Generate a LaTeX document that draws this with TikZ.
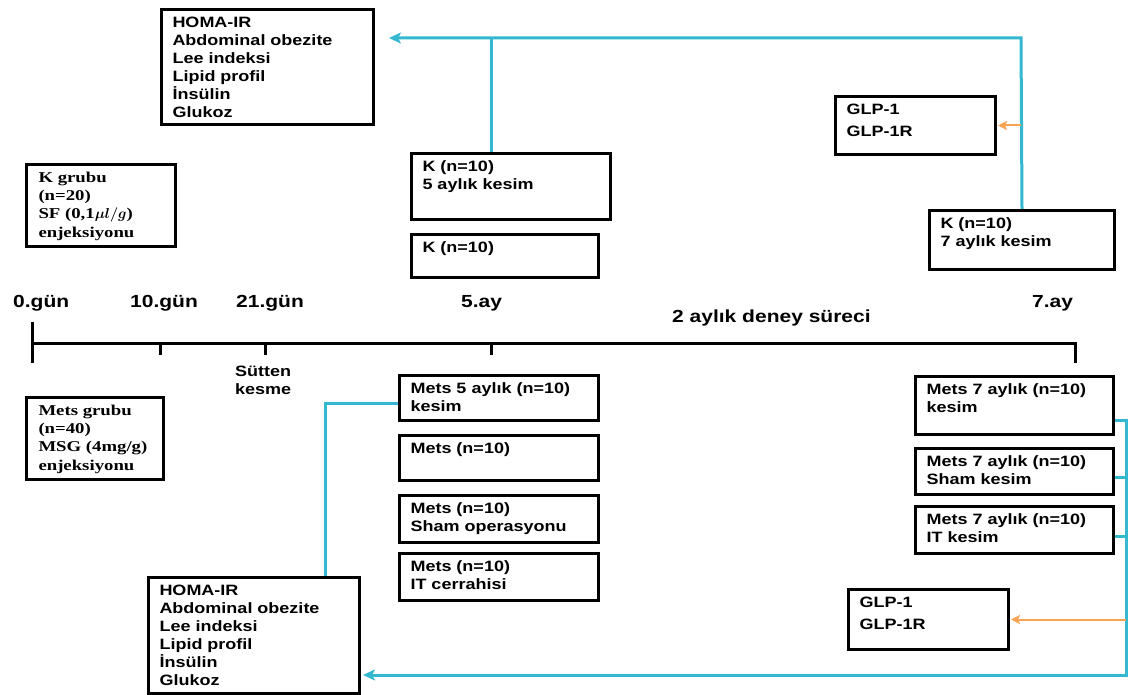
\documentclass[tikz,border=0pt]{standalone}
\usepackage{fontspec}
\usetikzlibrary{arrows.meta,calc}
\newfontfamily\sansb{Liberation Sans}[FakeStretch=1.2]
\newfontfamily\serifb{Liberation Serif}[FakeStretch=1.25]
\definecolor{cy}{RGB}{52,184,208}
\definecolor{orng}{RGB}{246,163,84}
\newcommand{\pbx}[3]{\parbox[c][#2pt][t]{#1pt}{\raggedright\strut #3}}
\tikzset{
  bx/.style={draw=black, line width=3pt, anchor=north west, inner xsep=11pt, inner ysep=5pt,
    font=\sansb\bfseries\fontsize{15}{18}\selectfont},
  sbx/.style={bx, inner xsep=12pt, font=\serifb\bfseries\boldmath\fontsize{15}{18.3}\selectfont},
  lbl/.style={anchor=base west, inner sep=0pt, font=\sansb\bfseries\fontsize{17.5}{21}\selectfont},
  slbl/.style={anchor=base west, inner sep=0pt, align=left, font=\sansb\bfseries\fontsize{15}{18}\selectfont},
  axis/.style={line width=3pt, black},
  cyline/.style={draw=cy, line width=3pt},
  cyarrow/.style={cyline, -{Stealth[length=12pt,width=11pt,inset=3pt]}},
  orarrow/.style={draw=orng, line width=2pt, -{Stealth[length=9pt,width=9pt,inset=2pt]}}
}
\begin{document}
\begin{tikzpicture}[x=1pt,y=-1pt]
\fill[white] (0,0) rectangle (1132,695);
\useasboundingbox (0,0) rectangle (1132,695);

% boxes
\node[bx] (hom1) at (160,8) {\pbx{190}{105}{HOMA-IR\\Abdominal obezite\\Lee indeksi\\Lipid profil\\İnsülin\\Glukoz}};
\node[sbx] (kgr) at (25,163) {\pbx{125}{72}{K grubu\\(n=20)\\SF (0,1$\mu l/g$)\\enjeksiyonu}};
\node[sbx] (mgr) at (25,396) {\pbx{113}{72}{Mets grubu\\(n=40)\\MSG (4mg/g)\\enjeksiyonu}};
\node[bx] (k5) at (410,152) {\pbx{177}{56}{K (n=10)\\5 aylık kesim}};
\node[bx] (k) at (410,233) {\pbx{165}{33}{K (n=10)}};
\node[bx] (m5) at (398,374) {\pbx{177}{35}{Mets 5 aylık (n=10)\\kesim}};
\node[bx] (m) at (398,434) {\pbx{177}{35}{Mets (n=10)}};
\node[bx] (msh) at (398,494) {\pbx{177}{37}{Mets (n=10)\\Sham operasyonu}};
\node[bx] (mit) at (398,552) {\pbx{177}{37}{Mets (n=10)\\IT cerrahisi}};
\node[bx] (hom2) at (147,576) {\pbx{189}{106}{HOMA-IR\\Abdominal obezite\\Lee indeksi\\Lipid profil\\İnsülin\\Glukoz}};
\node[bx] (glp1) at (834,95) {\pbx{138}{48}{GLP-1\\[4pt]GLP-1R}};
\node[bx] (k7) at (928,209) {\pbx{163}{49}{K (n=10)\\7 aylık kesim}};
\node[bx] (m7) at (914,375) {\pbx{176}{48}{Mets 7 aylık (n=10)\\kesim}};
\node[bx] (m7s) at (914,447) {\pbx{176}{36}{Mets 7 aylık (n=10)\\Sham kesim}};
\node[bx] (m7i) at (914,505) {\pbx{176}{37}{Mets 7 aylık (n=10)\\IT kesim}};
\node[bx] (glp2) at (847,588) {\pbx{138}{50}{GLP-1\\[4pt]GLP-1R}};

% timeline
\coordinate (t0) at (32,343);
\coordinate (t10) at (160,343);
\coordinate (t21) at (265,343);
\coordinate (t5) at (491,343);
\coordinate (t7) at (1075,343);
\draw[axis] ($(t0)+(0,-21)$) -- ($(t0)+(0,20)$);
\draw[axis] (t0) -- (t7) -- ++(0,20);
\draw[axis] (t10) -- ++(0,12);
\draw[axis] (t21) -- ++(0,12);
\draw[axis] (t5) -- ++(0,12);

\node[lbl] (l0) at (13,307) {0.gün};
\node[lbl] (l10) at (130,307) {10.gün};
\node[lbl] (l21) at (236,307) {21.gün};
\node[lbl] (l5) at (461,307) {5.ay};
\node[lbl] (l7) at (1032,307) {7.ay};
\node[lbl] (ld) at (672,322) {2 aylık deney süreci};
\node[slbl] (ls) at (235,394) {Sütten\\kesme};

% top connectors
\coordinate (tl) at (491,38);
\coordinate (tr) at (1021,38);
\draw[cyline] (k5.north -| tl) -- (tl);
\draw[cyarrow, shorten >=14pt] (k7.north) -- (tr) -- (hom1.east |- tr);
\draw[orarrow, shorten >=1pt] (glp1.east -| tr) -- (glp1.east);

% bottom connectors
\coordinate (bl) at (325,403);
\draw[cyline] (hom2.north -| bl) -- (bl) -- (m5.west |- bl);
\coordinate (rb) at (1126,675);
\draw[cyarrow, shorten >=2pt] ($(m7.south east)+(0,-16)$) -| (rb) -- (hom2.east |- rb);
\draw[cyline] ($(m7s.east)+(0,6)$) -- ++(13,0);
\draw[cyline] ($(m7i.east)+(0,6)$) -- ++(13,0);
\draw[orarrow, shorten >=1pt] (glp2.east -| rb) -- (glp2.east);
\end{tikzpicture}
\end{document}
